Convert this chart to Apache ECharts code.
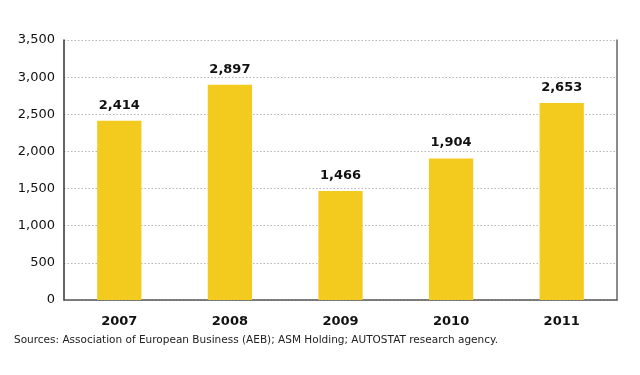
<!DOCTYPE html>
<html><head><meta charset="utf-8">
<script src="https://cdn.jsdelivr.net/npm/echarts@6/dist/echarts.min.js"></script>
<style>html,body{margin:0;padding:0;background:#fff}#c{width:640px;height:375px}</style>
</head><body><div id="c"></div>
<script>
const categories = ['2007','2008','2009','2010','2011'];
const values = [2414, 2897, 1466, 1904, 2653];
const yTicks = [0, 500, 1000, 1500, 2000, 2500, 3000, 3500];
const sourceText = 'Sources: Association of European Business (AEB); ASM Holding; AUTOSTAT research agency.';

const chart = echarts.init(document.getElementById('c'));
const font = '"DejaVu Sans", Verdana, sans-serif';
chart.setOption({
  animation: false,
  grid: {left: 64, right: 23, top: 40, bottom: 75},
  xAxis: {
    type: 'category', data: categories,
    axisLine: {show: true, lineStyle: {color: '#555', width: 1.5}},
    axisTick: {show: false},
    axisLabel: {color: '#111', fontFamily: font, fontSize: 13, fontWeight: 'bold', margin: 15}
  },
  yAxis: [{
    type: 'value', min: yTicks[0], max: yTicks[yTicks.length-1], interval: 500,
    axisLine: {show: true, lineStyle: {color: '#333', width: 1.5}},
    axisTick: {show: false},
    splitLine: {show: true, lineStyle: {color: '#b5b5b5', type: [1.5, 2], width: 1}},
    axisLabel: {color: '#111', fontFamily: font, fontSize: 13, margin: 9,
      formatter: v => v.toLocaleString('en-US')}
  }, {
    type: 'value', position: 'right', min: 0, max: 3500, interval: 500,
    axisLine: {show: true, lineStyle: {color: '#666', width: 1.5}},
    axisTick: {show: false}, axisLabel: {show: false}, splitLine: {show: false}
  }],
  series: [{
    type: 'bar', data: values, barWidth: '40%',
    itemStyle: {color: '#F2CB1E'},
    label: {show: true, position: 'top', distance: 9, color: '#111', fontFamily: font,
      fontSize: 13, fontWeight: 'bold', formatter: p => p.value.toLocaleString('en-US')}
  }],
  graphic: [{
    type: 'text', left: 14, top: 335,
    style: {text: sourceText, fill: '#222', font: '10.5px ' + font}
  }]
});
</script></body></html>
